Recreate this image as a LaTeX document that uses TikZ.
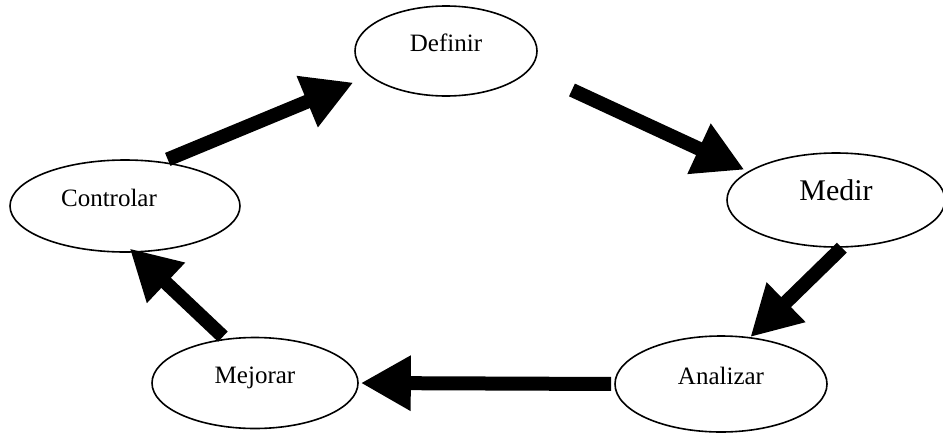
\documentclass[tikz,border=0pt]{standalone}
\usepackage{fontspec}
\setmainfont{Liberation Serif}
\usetikzlibrary{arrows.meta,shapes.geometric}
\tikzset{
	fase/.style={draw, ellipse, line width=1.6pt, inner sep=0pt,
			text height=0.7em, text depth=0.6em,
			font=\fontsize{25}{28}\selectfont},
	flecha/.style={line width=14pt, -{Triangle[length=50pt,width=52pt]}}
}
\begin{document}
\begin{tikzpicture}[x=1pt,y=-1pt]
	\useasboundingbox (0,0) rectangle (943,434);
	% fases
	\node[fase, minimum width=182pt, minimum height=90pt] (def) at (446,51) {Definir};
	\node[fase, minimum width=218pt, minimum height=94pt, font=\fontsize{30}{34}\selectfont] (med) at (836,200) {Medir};
	\node[fase, minimum width=212pt, minimum height=96pt] (anl) at (721,384) {Analizar};
	\node[fase, minimum width=206pt, minimum height=91pt] (mej) at (255,383) {Mejorar};
	\node[fase, minimum width=230pt, minimum height=92pt] (ctrl) at (125,206) {\hspace*{-32pt}Controlar};
	% ciclo
	\draw[flecha, shorten <=6pt, shorten >=17pt] (ctrl.50) -- (def.198);
	\draw[flecha, shorten <=47pt, shorten >=4pt] (def.-13) -- (med.162);
	\draw[flecha] (med.-83) -- (anl.58);
	\draw[flecha, shorten <=3pt, shorten >=2pt] (anl.180) -- (mej.0);
	\draw[flecha, shorten <=3pt, shorten >=-6pt] (mej.124) -- (ctrl.-79);
\end{tikzpicture}
\end{document}
